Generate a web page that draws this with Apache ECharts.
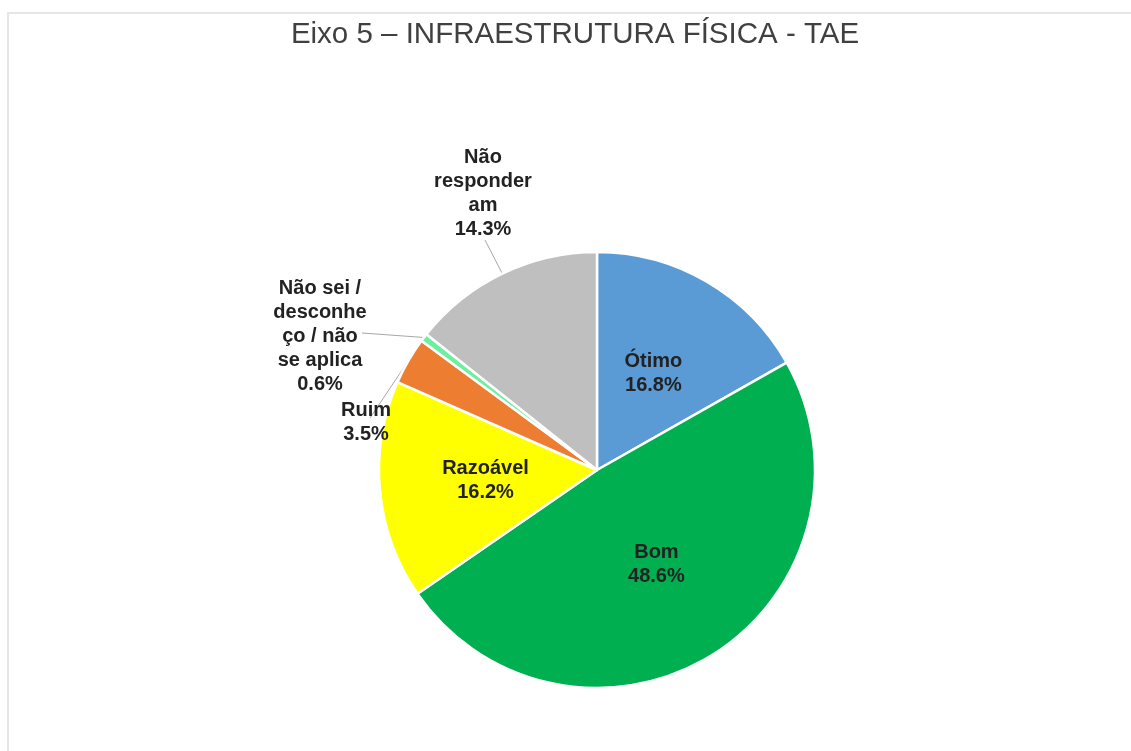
<!DOCTYPE html>
<html>
<head>
<meta charset="utf-8">
<title>Eixo 5 - Infraestrutura física - TAE</title>
<script src="https://cdn.jsdelivr.net/npm/echarts@6/dist/echarts.min.js"></script>
<style>
  html, body { margin: 0; padding: 0; background: #fff; }
  .com-container { position: relative; width: 1131px; height: 751px; overflow: hidden; }
  .com-frame { position: absolute; left: 7px; top: 12px; right: -10px; bottom: -10px;
    border-left: 2px solid #e6e6e6; border-top: 2px solid #e6e6e6; }
  .com-chart { position: absolute; left: 0; top: 0; width: 1131px; height: 751px; }
</style>
</head>
<body>
<div class="com-container">
  <div class="com-frame"></div>
  <div class="com-chart" id="pie_ref"></div>
</div>
<script>
// categorias e valores (%)
const categories = ['Ótimo', 'Bom', 'Razoável', 'Ruim', 'Não sei / desconheço / não se aplica', 'Não responderam']
const values = [16.8, 48.6, 16.2, 3.5, 0.6, 14.3]
// rótulos quebrados como no original
const labelTexts = ['Ótimo', 'Bom', 'Razoável', 'Ruim', 'Não sei /\ndesconhe\nço / não\nse aplica', 'Não\nresponder\nam']
const colors = ['#5B9BD5', '#00B050', '#FFFF00', '#ED7D31', '#6CF0A0', '#BFBFBF']

// onde ficam os rótulos externos e onde termina a linha guia
const outsideLabels = {
  3: { x: 366, y: 398, verticalAlign: 'top', lineTo: [370, 418] },
  4: { x: 320, y: 336, verticalAlign: 'middle', lineTo: [362, 333] },
  5: { x: 483, y: 241, verticalAlign: 'bottom', lineTo: [485, 240] }
}

let chartInstance = null

function initChart () {
  chartInstance = echarts.init(document.getElementById('pie_ref'))
  const pieData = categories.map((name, i) => {
    const outside = outsideLabels[i] != null
    return {
      name: name,
      value: values[i],
      itemStyle: { color: colors[i] },
      label: { position: outside ? 'outside' : 'inside' },
      labelLine: { show: outside }
    }
  })
  const option = {
    animation: false,
    title: {
      text: 'Eixo 5 – INFRAESTRUTURA FÍSICA - TAE',
      left: 570,
      textAlign: 'center',
      top: 15,
      textStyle: {
        color: '#404040',
        fontFamily: 'Liberation Sans',
        fontWeight: 'normal',
        fontSize: 29.5
      }
    },
    series: [
      {
        type: 'pie',
        center: [597, 470],
        radius: 218,
        startAngle: 90,
        clockwise: true,
        avoidLabelOverlap: false,
        data: pieData,
        itemStyle: {
          borderColor: '#fff',
          borderWidth: 2.5
        },
        label: {
          show: true,
          color: '#222',
          fontFamily: 'Liberation Sans',
          fontWeight: 'bold',
          fontSize: 20,
          lineHeight: 24,
          align: 'center',
          formatter: (p) => labelTexts[p.dataIndex] + '\n' + p.value.toFixed(1) + '%'
        },
        labelLine: {
          length: 15,
          length2: 10,
          lineStyle: { color: '#A6A6A6', width: 1 }
        },
        labelLayout: (params) => {
          const pos = outsideLabels[params.dataIndex]
          if (!pos) return {}
          // linha reta da borda da fatia até o rótulo
          const start = params.labelLinePoints ? params.labelLinePoints[0] : null
          const layout = { x: pos.x, y: pos.y, align: 'center', verticalAlign: pos.verticalAlign }
          if (start) layout.labelLinePoints = [start, pos.lineTo]
          return layout
        }
      }
    ]
  }
  chartInstance.setOption(option)
}

initChart()
</script>
</body>
</html>
